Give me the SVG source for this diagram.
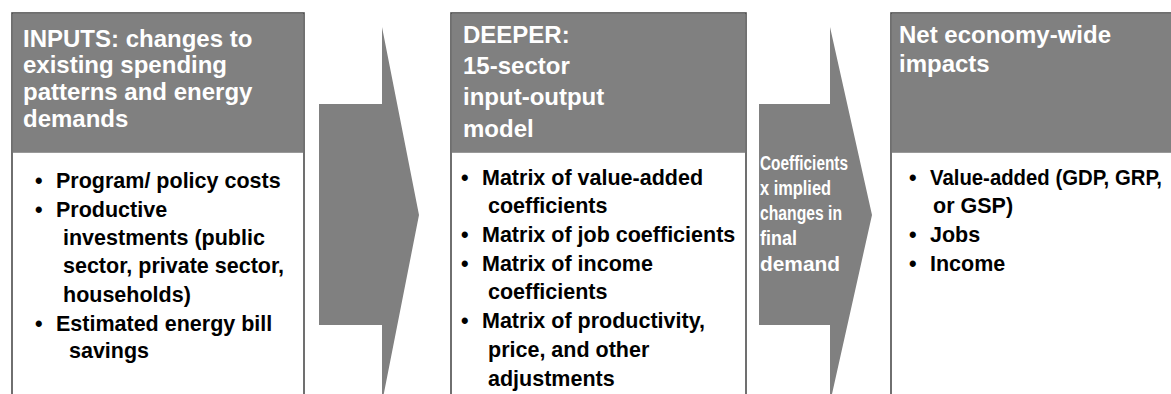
<svg xmlns="http://www.w3.org/2000/svg" width="1171" height="394" viewBox="0 0 1171 394">
<style>
.box{fill:#ffffff;stroke:#4d4d4d;stroke-width:1.6}
.hdr{fill:#808080}
.arrow{fill:#808080}
.ht{font-family:"Liberation Sans",Arial,sans-serif;font-weight:bold;font-size:24px;fill:#ffffff}
.bt{font-family:"Liberation Sans",Arial,sans-serif;font-weight:bold;font-size:21.5px;fill:#000000}
.at{font-family:"Liberation Sans",Arial,sans-serif;font-weight:bold;font-size:20px;fill:#ffffff}
</style>
<rect width="1171" height="394" fill="#ffffff"/>
<g id="connectors">
  <polygon class="arrow" points="319,104 382,104 382,27 419,215 382,403 382,325 319,325"/>
  <polygon class="arrow" points="759,104 830,104 830,27 872,215 830,403 830,325 759,325"/>
  <g id="arrow2-label">
    <text class="at" x="760" y="170" textLength="88" lengthAdjust="spacingAndGlyphs">Coefficients</text>
    <text class="at" x="760" y="195" textLength="71" lengthAdjust="spacingAndGlyphs">x implied</text>
    <text class="at" x="760" y="220" textLength="82" lengthAdjust="spacingAndGlyphs">changes in</text>
    <text class="at" x="760" y="245" textLength="37" lengthAdjust="spacingAndGlyphs">final</text>
    <text class="at" x="760" y="271" textLength="80" lengthAdjust="spacingAndGlyphs">demand</text>
  </g>
</g>
<g id="inputs">
  <rect class="box" x="12" y="13" width="292" height="400"/>
  <rect class="hdr" x="12.8" y="13.8" width="290.4" height="139"/>
  <text class="ht" x="23" y="47">INPUTS: changes to</text>
  <text class="ht" x="23" y="73">existing spending</text>
  <text class="ht" x="23" y="100">patterns and energy</text>
  <text class="ht" x="23" y="127">demands</text>
  <text class="bt" x="35" y="188">•</text><text class="bt" x="56" y="188">Program/ policy costs</text>
  <text class="bt" x="35" y="217">•</text><text class="bt" x="56" y="217">Productive</text>
  <text class="bt" x="63" y="245">investments (public</text>
  <text class="bt" x="63" y="273">sector, private sector,</text>
  <text class="bt" x="63" y="302">households)</text>
  <text class="bt" x="35" y="331">•</text><text class="bt" x="56" y="331">Estimated energy bill</text>
  <text class="bt" x="69" y="358">savings</text>
</g>
<g id="deeper">
  <rect class="box" x="451" y="13" width="295" height="400"/>
  <rect class="hdr" x="451.8" y="13.8" width="293.4" height="139"/>
  <text class="ht" x="463" y="43">DEEPER:</text>
  <text class="ht" x="463" y="74">15-sector</text>
  <text class="ht" x="463" y="105">input-output</text>
  <text class="ht" x="463" y="137">model</text>
  <text class="bt" x="461" y="185">•</text><text class="bt" x="482" y="185">Matrix of value-added</text>
  <text class="bt" x="488" y="213">coefficients</text>
  <text class="bt" x="461" y="242">•</text><text class="bt" x="482" y="242">Matrix of job coefficients</text>
  <text class="bt" x="461" y="271">•</text><text class="bt" x="482" y="271">Matrix of income</text>
  <text class="bt" x="488" y="299">coefficients</text>
  <text class="bt" x="461" y="328">•</text><text class="bt" x="482" y="328">Matrix of productivity,</text>
  <text class="bt" x="488" y="357">price, and other</text>
  <text class="bt" x="488" y="386">adjustments</text>
</g>
<g id="impacts">
  <rect class="box" x="891" y="13" width="300" height="400"/>
  <rect class="hdr" x="891.8" y="13.8" width="298.4" height="139"/>
  <text class="ht" x="899" y="43">Net economy-wide</text>
  <text class="ht" x="899" y="72">impacts</text>
  <text class="bt" x="909" y="185">•</text><text class="bt" x="930" y="185" textLength="232" lengthAdjust="spacingAndGlyphs">Value-added (GDP, GRP,</text>
  <text class="bt" x="933" y="213">or GSP)</text>
  <text class="bt" x="909" y="242">•</text><text class="bt" x="930" y="242">Jobs</text>
  <text class="bt" x="909" y="271">•</text><text class="bt" x="930" y="271">Income</text>
</g>
</svg>
